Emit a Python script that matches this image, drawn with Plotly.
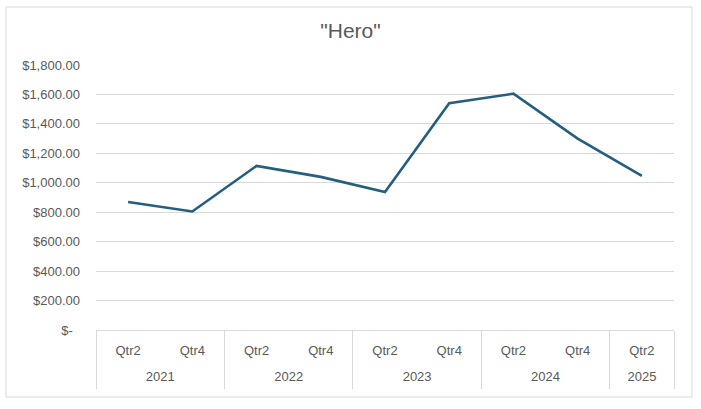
import plotly.graph_objects as go

years = ["2021", "2021", "2022", "2022", "2023", "2023", "2024", "2024", "2025"]
quarters = ["Qtr2", "Qtr4", "Qtr2", "Qtr4", "Qtr2", "Qtr4", "Qtr2", "Qtr4", "Qtr2"]
values = [870, 805, 1115, 1040, 937, 1540, 1605, 1300, 1047]

y_ticks = [0, 200, 400, 600, 800, 1000, 1200, 1400, 1600, 1800]
y_labels = ["$-\u00a0\u00a0", "$200.00", "$400.00", "$600.00", "$800.00", "$1,000.00",
            "$1,200.00", "$1,400.00", "$1,600.00", "$1,800.00"]

# category keys (unique) built from the year / quarter lists
cats = [f"{y} {q}" for y, q in zip(years, quarters)]
n = len(cats)

# year groups: centres and boundaries in category-index units
groups = []
for i, y in enumerate(years):
    if not groups or groups[-1][0] != y:
        groups.append([y, i, i])
    else:
        groups[-1][2] = i
year_labels = [g[0] for g in groups]
year_centres = [(g[1] + g[2]) / 2 for g in groups]
boundaries = [g[1] - 0.5 for g in groups] + [n - 0.5]

fig = go.Figure()
fig.add_trace(go.Scatter(
    x=cats, y=values, mode="lines",
    line=dict(color="#255E7E", width=2.6),
))
# invisible helper trace so the year axis is drawn
fig.add_trace(go.Scatter(
    x=year_centres, y=[0] * len(year_centres), xaxis="x2", yaxis="y",
    mode="markers", marker=dict(opacity=0), hoverinfo="skip", showlegend=False,
))

L, R, T, B = 96, 27, 65, 79
W, H = 701, 409
pw, ph = W - L - R, H - T - B
grid = "#d9d9d9"
txt = "#595959"
fs = 13

fig.update_layout(
    width=W, height=H,
    margin=dict(l=L, r=R, t=T, b=B, autoexpand=False),
    paper_bgcolor="white", plot_bgcolor="white",
    showlegend=False,
    font=dict(family="Liberation Sans, Arial, sans-serif", color=txt, size=fs),
    title=dict(text='"Hero"', x=0.5, xanchor="center", y=1 - 31 / H, yanchor="middle",
               font=dict(size=21, color=txt)),
    xaxis=dict(
        type="category", range=[-0.5, n - 0.5], automargin=False,
        tickmode="array", tickvals=cats, ticktext=quarters,
        showline=True, linecolor=grid, linewidth=1,
        showgrid=False, ticks="", ticklabelstandoff=8,
        tickfont=dict(size=fs, color=txt),
    ),
    xaxis2=dict(
        overlaying="x", anchor="y", side="bottom", type="linear",
        range=[-0.5, n - 0.5], automargin=False, showgrid=False, zeroline=False,
        tickmode="array", tickvals=year_centres, ticktext=year_labels,
        ticks="", ticklabelstandoff=37, showline=False,
        tickfont=dict(size=fs, color=txt),
        minor=dict(tickmode="array", tickvals=boundaries, ticks="outside",
                   ticklen=58, tickcolor=grid, tickwidth=1, showgrid=False),
    ),
    yaxis=dict(
        range=[0, 1800], tickvals=y_ticks, ticktext=y_labels, automargin=False,
        showgrid=True, gridcolor=grid, gridwidth=1, zeroline=False,
        showline=False, ticks="", ticklabelstandoff=15,
        tickfont=dict(size=fs, color=txt),
    ),
    shapes=[dict(
        type="rect", xref="paper", yref="paper",
        x0=(6 - L) / pw, x1=(692 - L) / pw,
        y0=-(397 - (H - B)) / ph, y1=1 + (T - 7) / ph,
        line=dict(color=grid, width=1), fillcolor="rgba(0,0,0,0)", layer="below",
    )],
)

fig.write_html("out.html", config={"displayModeBar": False},
               post_script="document.body.style.margin='0';")
